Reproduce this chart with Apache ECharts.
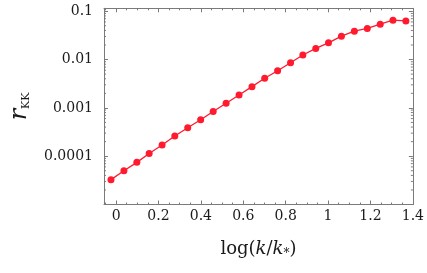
<!DOCTYPE html>
<html>
<head>
<meta charset="utf-8">
<script src="https://cdn.jsdelivr.net/npm/echarts@6/dist/echarts.min.js"></script>
<style>html,body{margin:0;padding:0;background:#fff;}#c{width:427px;height:273px;}</style>
</head>
<body>
<div id="c"></div>
<script>
var xValues = [-0.024, 0.037, 0.098, 0.156, 0.217, 0.277, 0.338, 0.399, 0.458, 0.519, 0.580, 0.641,
               0.701, 0.762, 0.823, 0.881, 0.942, 1.002, 1.063, 1.124, 1.185, 1.246, 1.306, 1.367];
var rKK = [3.27e-5, 5.0e-5, 7.45e-5, 1.14e-4, 1.70e-4, 2.61e-4, 3.87e-4, 5.66e-4, 8.39e-4, 1.25e-3,
           1.85e-3, 2.75e-3, 4.09e-3, 5.87e-3, 8.59e-3, 0.0124, 0.0170, 0.0222, 0.0305, 0.0387,
           0.0440, 0.0540, 0.0652, 0.0631];
var yTickLabels = {'-1': '0.1', '-2': '0.01', '-3': '0.001', '-4': '0.0001'};
var yMinorDecades = [1e-5, 1e-4, 1e-3, 1e-2];
var yMinorMultipliers = [2, 3, 4, 5, 6, 7, 8, 9];

var FONT = 'DejaVu Serif';
var frame = '#7a7a7a';
var red = '#ff1a2e';
var X_MIN = -0.057, X_MAX = 1.4;

var pts = xValues.map(function (x, i) { return [x, rKK[i]]; });
var minorTickVals = [];
yMinorDecades.forEach(function (d) {
  yMinorMultipliers.forEach(function (m) { minorTickVals.push([X_MIN, d * m]); });
});

function yFmt(v) {
  var l = Math.log(v) / Math.LN10;
  var e = Math.round(l);
  if (Math.abs(l - e) > 1e-6) return '';
  return yTickLabels[String(e)] || '';
}

var chart = echarts.init(document.getElementById('c'), null, {renderer: 'canvas'});
var xCommon = {
  type: 'value', min: X_MIN, max: X_MAX, splitNumber: 7,
  axisLine: {show: true, onZero: false, lineStyle: {color: frame, width: 1}},
  axisTick: {show: true, inside: true, length: 4, lineStyle: {color: frame}},
  minorTick: {show: true, splitNumber: 4, length: 2, lineStyle: {color: frame}},
  splitLine: {show: false}
};
var yCommon = {
  type: 'log', logBase: 10, min: 1e-5, max: 0.115,
  axisLine: {show: true, onZero: false, lineStyle: {color: frame, width: 1}},
  axisTick: {show: true, inside: true, length: 4, lineStyle: {color: frame}},
  splitLine: {show: false}
};
chart.setOption({
  animation: false,
  grid: {left: 101, right: 6.5, top: 8.3, bottom: 68.5, containLabel: false},
  xAxis: [
    Object.assign({}, xCommon, {
      position: 'bottom',
      axisLabel: {show: true, showMinLabel: false, margin: 5, color: '#1a1a1a', fontFamily: FONT, fontSize: 14,
        formatter: function (v) { return String(Math.round(v * 10) / 10); }},
      name: '{n|log(}{i|k}{n|/}{i|k}{s|*}{n|)}',
      nameLocation: 'middle', nameGap: 35,
      nameTextStyle: {
        rich: {
          n: {fontFamily: FONT, fontSize: 18, color: '#1a1a1a'},
          i: {fontFamily: FONT, fontSize: 18, fontStyle: 'italic', color: '#1a1a1a'},
          s: {fontFamily: FONT, fontSize: 12, color: '#1a1a1a', verticalAlign: 'bottom', padding: [8, 0, 0, 0]}
        }
      }
    }),
    Object.assign({}, xCommon, {position: 'top', axisLabel: {show: false}})
  ],
  yAxis: [
    Object.assign({}, yCommon, {
      position: 'left',
      axisLabel: {show: true, showMinLabel: false, showMaxLabel: false, margin: 11, color: '#1a1a1a',
        fontFamily: FONT, fontSize: 14, formatter: yFmt},
      name: '{r|r}{s|KK}',
      nameLocation: 'middle', nameRotate: 90, nameGap: 72,
      nameTextStyle: {
        rich: {
          r: {fontFamily: FONT, fontSize: 24, fontStyle: 'italic', color: '#1a1a1a'},
          s: {fontFamily: FONT, fontSize: 11, color: '#1a1a1a', verticalAlign: 'bottom', padding: [10, 0, 0, 0]}
        }
      }
    }),
    Object.assign({}, yCommon, {position: 'right', axisLabel: {show: false}})
  ],
  series: [{
    type: 'custom',
    xAxisIndex: 0, yAxisIndex: 0,
    silent: true, clip: false, z: 1,
    data: minorTickVals,
    renderItem: function (params, api) {
      var l = api.coord([X_MIN, api.value(1)]);
      var r = api.coord([X_MAX, api.value(1)]);
      var st = {stroke: frame, lineWidth: 1};
      return {type: 'group', children: [
        {type: 'line', shape: {x1: l[0], y1: l[1], x2: l[0] + 2, y2: l[1]}, style: st},
        {type: 'line', shape: {x1: r[0], y1: r[1], x2: r[0] - 2, y2: r[1]}, style: st}
      ]};
    }
  }, {
    type: 'line',
    xAxisIndex: 0, yAxisIndex: 0,
    data: pts,
    symbol: 'circle', symbolSize: 7,
    itemStyle: {color: red},
    lineStyle: {color: red, width: 1.3},
    z: 3
  }]
});
</script>
</body>
</html>
